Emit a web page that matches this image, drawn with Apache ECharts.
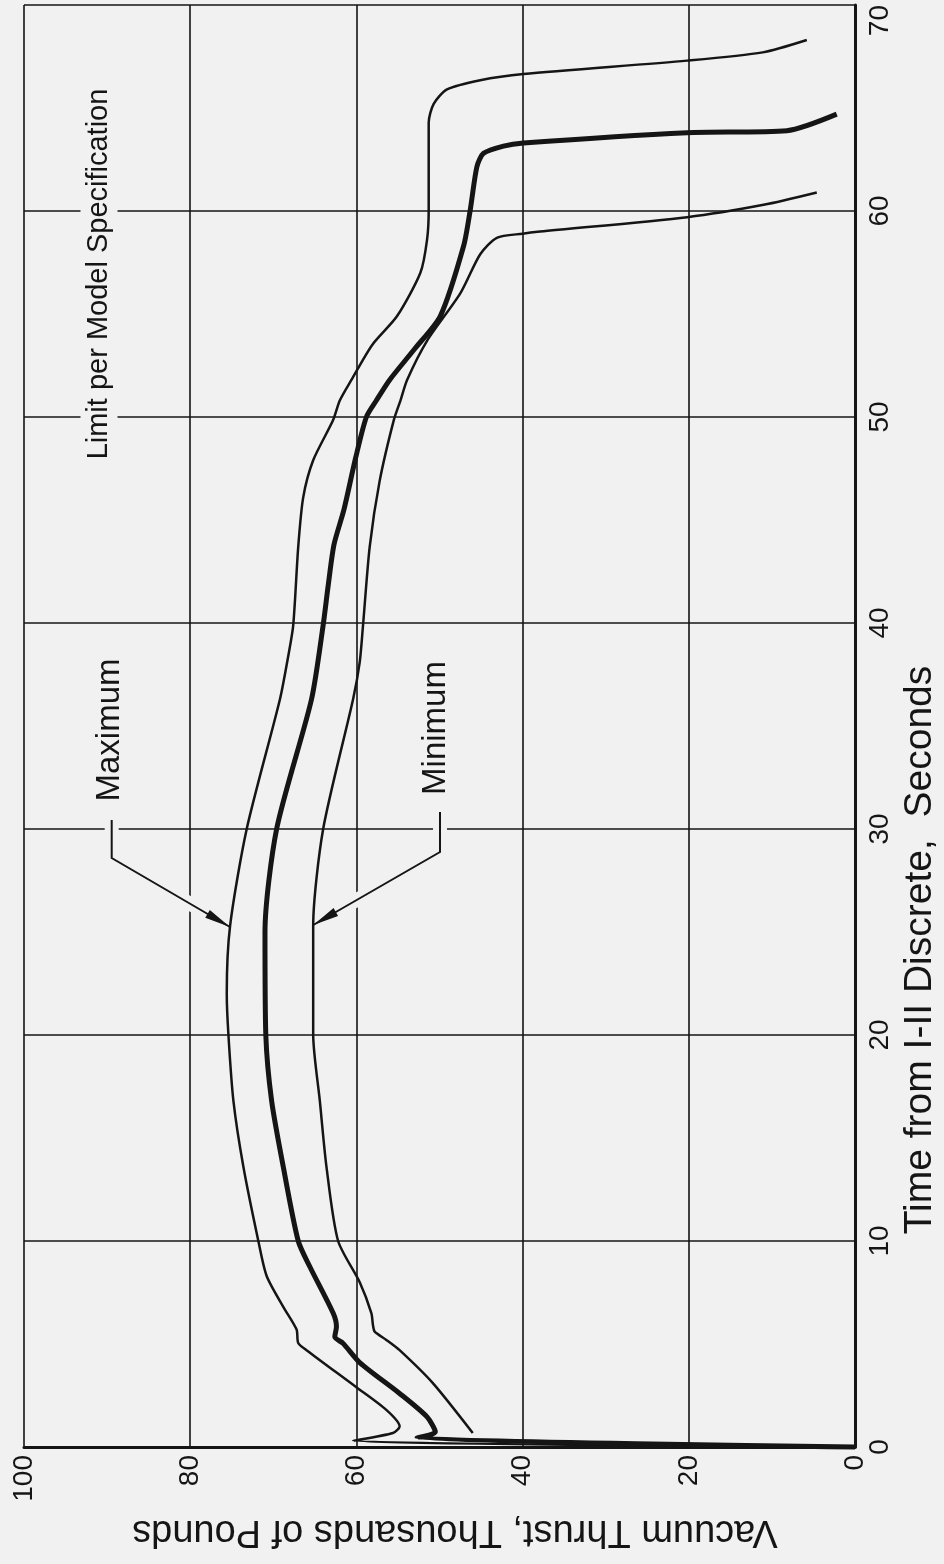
<!DOCTYPE html>
<html><head><meta charset="utf-8">
<script src="https://cdn.jsdelivr.net/npm/echarts@6/dist/echarts.min.js"></script>
<style>html,body{margin:0;padding:0;background:#f1f1f1}#c{width:944px;height:1564px}</style>
</head><body><div id="c"></div>
<script>
// Tick labels
const thrustTicks = [0, 20, 40, 60, 80, 100];
const timeTicks = [0, 10, 20, 30, 40, 50, 60, 70];

// [thrust (thousands lb), time (s)]
const maximumCurve = [
  [0,0],[60.4,0.3],[55.6,0.68],[54.8,1.0],[56.4,1.8],[60.0,2.9],[66.0,4.7],[67.0,5.05],[67.2,5.7],
  [68.8,6.8],[70.8,8.3],[71.8,10.0],[73.6,13.6],[74.8,16.8],[75.4,20.0],[75.6,22.0],[75.2,25.3],
  [73.2,30.0],[69.2,36.3],[68.2,38.4],[67.6,39.9],[67.0,43.7],[66.4,46.1],[65.2,47.9],[62.8,49.85],
  [62.0,50.8],[60.6,51.8],[58.1,53.5],[55.1,54.9],[52.3,57.0],[51.5,58.6],[51.3,60.05],[51.3,64.3],
  [50.7,65.2],[49.1,65.9],[45.1,66.35],[39.9,66.65],[20.2,67.3],[11.1,67.7],[5.8,68.3]
];
const nominalCurve = [
  [0,0],[52.7,0.45],[50.5,0.73],[51.5,1.46],[54.8,2.6],[59.6,4.1],[61.6,5.03],[62.6,5.35],[62.4,5.84],
  [62.8,6.5],[65.6,8.75],[67.0,10.0],[68.8,13.6],[70.2,16.8],[70.9,20.0],[71.0,25.0],[69.6,30.0],
  [65.4,36.3],[64.0,39.9],[63.4,41.8],[62.7,43.8],[61.5,45.5],[60.1,48.0],[58.8,50.0],[57.6,50.8],
  [56.0,51.8],[53.0,53.3],[49.9,54.9],[47.1,58.3],[46.3,60.05],[45.5,62.15],[44.7,62.8],[42.3,63.15],
  [39.9,63.3],[20.2,63.8],[8.2,63.9],[2.2,64.7]
];
const minimumCurve = [
  [46.0,0.68],[50.8,3.1],[54.8,4.7],[56.4,5.2],[57.8,5.6],[58.0,5.9],[58.2,6.5],[59.6,8.0],[62.2,10.0],
  [63.6,13.6],[64.4,16.8],[65.2,20.0],[65.2,25.3],[64.0,30.0],[60.4,36.3],[59.6,38.1],[59.2,39.9],
  [58.4,43.7],[57.2,46.9],[55.5,49.85],[54.7,50.8],[53.9,51.8],[51.5,53.7],[47.5,56.0],[45.1,57.9],
  [43.1,58.7],[40.0,58.9],[37.9,59.0],[20.2,59.7],[11.0,60.3],[4.6,60.9]
];

const BG = '#f1f1f1', INK = '#151515';
const FONT = "'Liberation Sans', Arial, sans-serif";

const maxBracket = [[111.7,820],[111.7,858],[230,927]];
const minBracket = [[440,812],[440,852],[313.3,925]];
function arrowHead(p){
  const a = p[p.length-2], b = p[p.length-1];
  const dx = b[0]-a[0], dy = b[1]-a[1], L = Math.hypot(dx,dy);
  const ux = dx/L, uy = dy/L, len = 26, hw = 4.5;
  const cx = b[0]-ux*len, cy = b[1]-uy*len;
  return [[b[0],b[1]],[cx-uy*hw, cy+ux*hw],[cx+uy*hw, cy-ux*hw]];
}
function txt(text, x, y, rot, size, extra){
  return {
    type:'text', x:x, y:y, rotation:rot, z:10,
    style:Object.assign({text:text, font:size+'px '+FONT, fill:INK,
      align:'center', verticalAlign:'middle', textAlign:'center', textVerticalAlign:'middle'}, extra||{})
  };
}

const chart = echarts.init(document.getElementById('c'));
chart.setOption({
  backgroundColor: BG,
  animation: false,
  grid: {left:24, right:89, top:5, bottom:117, containLabel:false, outerBoundsMode:'none'},
  xAxis: {
    type:'value', min:0, max:100, interval:20, inverse:true, position:'bottom',
    axisLine:{show:true, onZero:false, lineStyle:{color:INK, width:3}},
    axisTick:{show:false},
    splitLine:{show:true, lineStyle:{color:INK, width:1.6}},
    axisLabel:{rotate:90, fontSize:28, color:INK, fontFamily:FONT, margin:8,
      formatter: v => String(thrustTicks[thrustTicks.indexOf(v)])}
  },
  yAxis: {
    type:'value', min:0, max:70, interval:10, position:'right',
    axisLine:{show:true, onZero:false, lineStyle:{color:INK, width:3}},
    axisTick:{show:false},
    splitLine:{show:true, lineStyle:{color:INK, width:1.6}},
    axisLabel:{rotate:90, fontSize:28, color:INK, fontFamily:FONT, margin:11, alignMaxLabel:'right',
      formatter: v => String(timeTicks[timeTicks.indexOf(v)])}
  },
  series: [
    {name:'Maximum', type:'line', data:maximumCurve, showSymbol:false, smooth:0.25, clip:false,
     lineStyle:{color:INK, width:2.5}},
    {name:'Nominal', type:'line', data:nominalCurve, showSymbol:false, smooth:0.25, clip:false,
     lineStyle:{color:INK, width:5}},
    {name:'Minimum', type:'line', data:minimumCurve, showSymbol:false, smooth:0.25, clip:false,
     lineStyle:{color:INK, width:2.5}}
  ],
  graphic: [
    {type:'polyline', z:1, shape:{points:maxBracket}, style:{stroke:BG, lineWidth:14, fill:null}},
    {type:'polyline', z:1, shape:{points:minBracket}, style:{stroke:BG, lineWidth:14, fill:null}},
    {type:'polyline', z:10, shape:{points:maxBracket}, style:{stroke:INK, lineWidth:2, fill:null}},
    {type:'polyline', z:10, shape:{points:minBracket}, style:{stroke:INK, lineWidth:2, fill:null}},
    {type:'polygon', z:10, shape:{points:arrowHead(maxBracket)}, style:{fill:INK}},
    {type:'polygon', z:10, shape:{points:arrowHead(minBracket)}, style:{fill:INK}},
    txt('Limit per Model Specification', 99, 274, Math.PI/2, 29, {backgroundColor:BG, padding:[4,8]}),
    txt('Maximum', 110, 730, Math.PI/2, 33),
    txt('Minimum', 436, 728, Math.PI/2, 33),
    txt('Time from I-II Discrete,  Seconds', 920, 950, Math.PI/2, 39),
    txt('Vacuum Thrust, Thousands of Pounds', 455, 1531, Math.PI, 38)
  ]
});
</script></body></html>
